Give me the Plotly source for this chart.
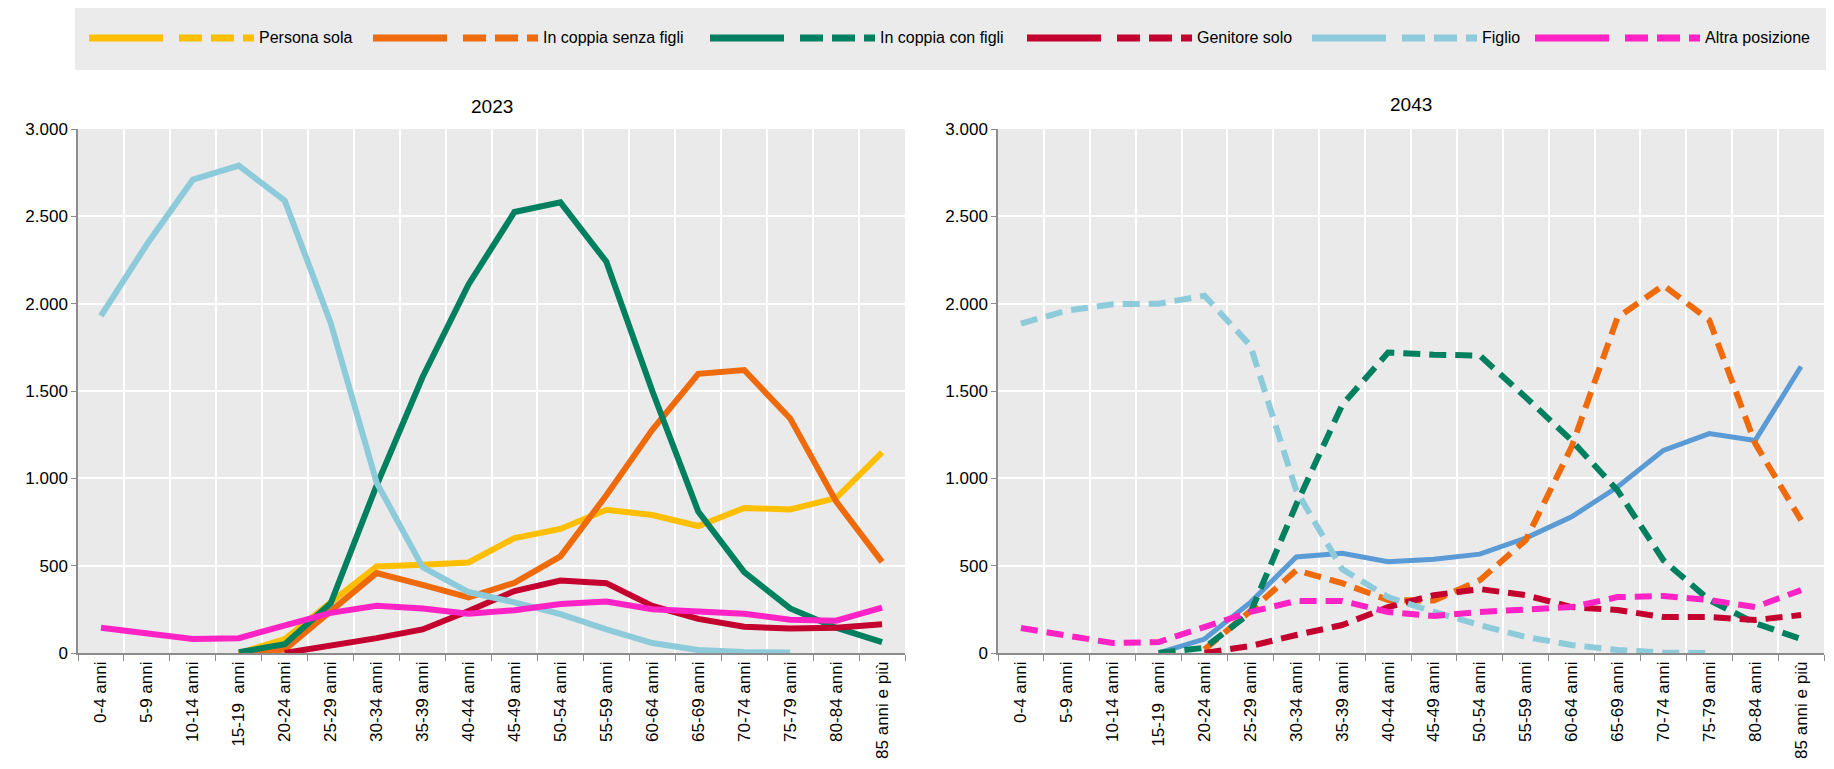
import plotly.graph_objects as go

categories = ["0-4 anni", "5-9 anni", "10-14 anni", "15-19  anni", "20-24 anni", "25-29 anni",
              "30-34 anni", "35-39 anni", "40-44 anni", "45-49 anni", "50-54 anni", "55-59 anni",
              "60-64 anni", "65-69 anni", "70-74 anni", "75-79 anni", "80-84 anni", "85 anni e più"]

series_names = ["Persona sola", "In coppia senza figli", "In coppia con figli",
                "Genitore solo", "Figlio", "Altra posizione"]

# 2023 values (thousands)
persona_sola_2023 = [None, None, None, 0, 80, 290, 495, 505, 518, 658, 710, 820, 790, 727, 830, 822, 887, 1148]
coppia_senza_2023 = [None, None, None, 0, 20, 240, 458, 390, 318, 402, 553, 903, 1278, 1598, 1620, 1343, 868, 522]
coppia_con_2023 = [None, None, None, 5, 50, 285, 960, 1580, 2110, 2525, 2580, 2240, 1500, 810, 463, 255, 145, 62]
genitore_2023 = [None, None, None, None, 0, 40, 85, 135, 240, 355, 415, 400, 270, 195, 150, 140, 145, 165]
figlio_2023 = [1930, 2340, 2710, 2790, 2590, 1890, 975, 492, 349, 290, 222, 135, 57, 17, 6, 3, None, None]
altra_2023 = [145, 115, 80, 85, 155, 230, 270, 255, 225, 245, 280, 295, 250, 235, 225, 190, 185, 260]

# 2043 values (thousands)
persona_sola_2043 = [None, None, None, 0, 80, 290, 550, 571, 522, 537, 566, 658, 780, 950, 1160, 1256, 1217, 1640]
coppia_senza_2043 = [None, None, None, None, 20, 240, 474, 400, 303, 300, 417, 646, 1180, 1920, 2105, 1905, 1200, 760]
coppia_con_2043 = [None, None, None, 0, 30, 230, 850, 1420, 1720, 1708, 1703, 1464, 1217, 931, 531, 303, 171, 80]
genitore_2043 = [None, None, None, None, 0, 40, 103, 160, 263, 331, 366, 331, 263, 246, 206, 206, 189, 217]
figlio_2043 = [1886, 1960, 1997, 2000, 2046, 1760, 930, 480, 320, 235, 160, 92, 46, 17, 3, 0, None, None]
altra_2043 = [143, 103, 57, 63, 149, 235, 298, 298, 235, 212, 235, 252, 263, 320, 326, 303, 263, 360]

colors = ["#FFBE00", "#EE6A0A", "#00805F", "#C4002F", "#8DCBDB", "#FF22C4"]
blue_2043 = "#5B9BD5"

data_2023 = [persona_sola_2023, coppia_senza_2023, coppia_con_2023, genitore_2023, figlio_2023, altra_2023]
data_2043 = [persona_sola_2043, coppia_senza_2043, coppia_con_2043, genitore_2043, figlio_2043, altra_2043]

# page has an 8px body margin; figure sized to fit the 1834x769 window
OFF = 8
W, H = 1834 - 2 * OFF, 769 - 2 * OFF


def px(x):
    return (x - OFF) / W


def py(y):
    return 1 - (y - OFF) / H


DASH = "17px,9px"

fig = go.Figure()

for name, vals, col in zip(series_names, data_2023, colors):
    fig.add_trace(go.Scatter(x=categories, y=vals, name=name, mode="lines",
                             line=dict(color=col, width=6), showlegend=False,
                             connectgaps=False, xaxis="x", yaxis="y"))

# 2043: Persona sola drawn as solid blue line, others dashed
for i, (name, vals, col) in enumerate(zip(series_names, data_2043, colors)):
    if i == 0:
        line = dict(color=blue_2043, width=5)
    else:
        line = dict(color=col, width=6, dash=DASH)
    fig.add_trace(go.Scatter(x=categories, y=vals, name=name, mode="lines",
                             line=line, showlegend=False,
                             connectgaps=False, xaxis="x2", yaxis="y2"))

font_fam = "Liberation Sans, Arial, sans-serif"

ydom = [py(653), py(129)]

xaxis_common = dict(type="category", tickson="boundaries", showgrid=True, gridcolor="white",
                    gridwidth=1.5, showline=True, linecolor="#8C8C8C", linewidth=1.5,
                    ticks="outside", ticklen=6, tickcolor="#8C8C8C", tickangle=-90,
                    range=[-0.5, len(categories) - 0.5],
                    tickfont=dict(family=font_fam, size=17, color="black"),
                    automargin=False, fixedrange=True, zeroline=False)
yaxis_common = dict(range=[0, 3000], dtick=500, tickformat=",d", showgrid=True,
                    gridcolor="white", gridwidth=1.5, showline=True, linecolor="#8C8C8C",
                    linewidth=1.5, ticks="outside", ticklen=5, tickcolor="#8C8C8C",
                    tickfont=dict(family=font_fam, size=17, color="black"),
                    automargin=False, zeroline=False, fixedrange=True)

fig.update_layout(
    width=W, height=H,
    margin=dict(l=0, r=0, t=0, b=0),
    paper_bgcolor="white",
    plot_bgcolor="#EAEAEA",
    separators=",.",
    showlegend=False,
    xaxis=dict(domain=[px(78), px(905)], **xaxis_common),
    yaxis=dict(domain=ydom, **yaxis_common),
    xaxis2=dict(domain=[px(998), px(1824)], anchor="y2", **xaxis_common),
    yaxis2=dict(domain=ydom, anchor="x2", **yaxis_common),
)

annotations = [
    dict(text="2023", xref="x domain", yref="paper", x=0.5, y=py(106), showarrow=False,
         font=dict(family=font_fam, size=19, color="black"), xanchor="center", yanchor="middle"),
    dict(text="2043", xref="x2 domain", yref="paper", x=0.5, y=py(104), showarrow=False,
         font=dict(family=font_fam, size=19, color="black"), xanchor="center", yanchor="middle"),
]

# Manual legend (solid sample = 2023, dashed sample = 2043)
shapes = [dict(type="rect", xref="paper", yref="paper", x0=px(75), x1=px(1828),
               y0=py(70), y1=py(6), fillcolor="#EBEBEB", line=dict(width=0), layer="below")]
text_widths = [100, 153, 133, 101, 39, 116]
ly = py(38)
cur = 89
for name, col, tw in zip(series_names, colors, text_widths):
    shapes.append(dict(type="line", xref="paper", yref="paper", x0=px(cur), x1=px(cur + 74),
                       y0=ly, y1=ly, line=dict(color=col, width=7)))
    shapes.append(dict(type="line", xref="paper", yref="paper", x0=px(cur + 90), x1=px(cur + 165),
                       y0=ly, y1=ly, line=dict(color=col, width=7, dash="23px,9px")))
    annotations.append(dict(text=name, xref="paper", yref="paper", x=px(cur + 168), y=ly,
                            xanchor="left", yanchor="middle", showarrow=False,
                            font=dict(family=font_fam, size=16, color="black")))
    cur += 170 + tw + 14

fig.update_layout(shapes=shapes, annotations=annotations)

fig.write_html("out.html")
